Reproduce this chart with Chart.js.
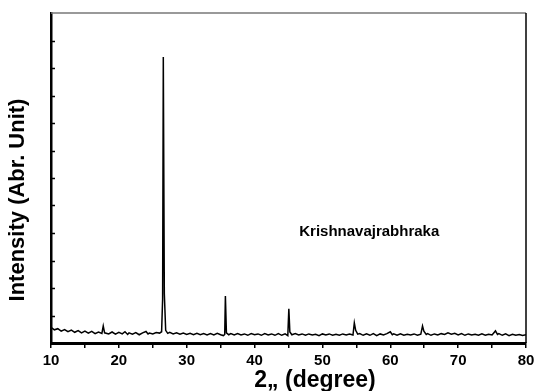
<!DOCTYPE html>
<html>
<head>
<meta charset="utf-8">
<script src="https://cdn.jsdelivr.net/npm/chart.js@4.4.1/dist/chart.umd.min.js"></script>
<style>
  html, body { margin: 0; padding: 0; background: #fff; }
  #wrap { width: 536px; height: 391px; position: relative; }
</style>
</head>
<body>
<div id="wrap"><canvas id="c"></canvas></div>
<script>
const twoTheta = [
  10.0,10.5,11.0,11.5,12.0,12.5,13.0,13.5,14.0,14.5,15.0,15.5,16.0,16.5,17.0,17.5,17.7,17.9,
  18.5,19.0,19.5,20.0,20.5,20.9,21.3,21.5,22.0,22.5,23.0,23.5,24.0,24.3,24.5,25.0,25.5,26.0,
  26.3,26.45,26.55,26.7,26.9,27.2,27.5,28.0,28.5,29.0,29.5,30.0,30.5,31.0,31.5,32.0,32.5,33.0,
  33.5,34.0,34.5,35.0,35.4,35.6,35.7,35.85,36.2,36.5,37.0,37.5,38.0,38.5,39.0,39.5,40.0,40.5,
  41.0,41.5,42.0,42.5,43.0,43.5,44.0,44.5,44.9,45.05,45.2,45.5,46.0,46.5,47.0,47.5,48.0,48.5,
  49.0,49.5,50.0,50.5,51.0,51.5,52.0,52.5,53.0,53.5,54.0,54.5,54.7,54.9,55.2,55.5,56.0,56.5,
  57.0,57.5,58.0,58.5,59.0,59.5,60.0,60.3,60.5,61.0,61.5,62.0,62.5,63.0,63.5,64.0,64.5,64.75,
  64.95,65.3,65.5,66.0,66.5,67.0,67.5,68.0,68.5,69.0,69.5,70.0,70.5,71.0,71.5,72.0,72.5,73.0,
  73.5,74.0,74.5,75.0,75.5,75.8,76.0,76.5,77.0,77.5,78.0,78.5,79.0,79.5,80.0
];
const intensity = [
  0.57,0.48,0.52,0.43,0.49,0.41,0.47,0.39,0.45,0.37,0.43,0.36,0.42,0.34,0.40,0.35,0.62,0.37,
  0.33,0.40,0.32,0.39,0.33,0.41,0.31,0.37,0.32,0.38,0.30,0.37,0.42,0.33,0.36,0.33,0.38,0.36,
  0.41,1.60,10.40,1.80,0.46,0.35,0.39,0.33,0.37,0.32,0.36,0.31,0.35,0.30,0.35,0.30,0.34,0.29,
  0.34,0.29,0.35,0.30,0.27,0.31,1.71,0.37,0.30,0.34,0.29,0.34,0.29,0.33,0.28,0.34,0.30,0.33,
  0.28,0.34,0.29,0.33,0.28,0.34,0.28,0.33,0.27,1.24,0.40,0.30,0.34,0.29,0.33,0.28,0.33,0.29,
  0.32,0.27,0.33,0.29,0.33,0.28,0.32,0.28,0.33,0.29,0.33,0.29,0.73,0.46,0.32,0.34,0.28,0.33,
  0.28,0.34,0.27,0.33,0.29,0.34,0.41,0.30,0.33,0.28,0.33,0.28,0.32,0.29,0.33,0.28,0.32,0.62,
  0.43,0.31,0.34,0.28,0.33,0.29,0.34,0.31,0.37,0.32,0.35,0.29,0.34,0.28,0.33,0.29,0.32,0.28,
  0.33,0.28,0.32,0.29,0.44,0.31,0.34,0.28,0.33,0.27,0.32,0.28,0.31,0.27,0.30
];
const xTickLabels = ['10','20','30','40','50','60','70','80'];
const sampleName = 'Krishnavajrabhraka';
const xTitle = '2\u201E (degree)';
const yTitle = 'Intensity (Abr. Unit)';
const annotationAt = [56.9, 4.05];

const points = twoTheta.map((t, i) => ({ x: t, y: intensity[i] }));

const FONT = '"Liberation Sans", Arial, sans-serif';

const decor = {
  id: 'decor',
  afterDraw(chart) {
    const ctx = chart.ctx;
    const a = chart.chartArea;
    const xs = chart.scales.x, ys = chart.scales.y;
    ctx.save();
    // top border (gray) and right border
    ctx.strokeStyle = '#777';
    ctx.lineWidth = 1.5;
    ctx.beginPath(); ctx.moveTo(a.left, a.top); ctx.lineTo(a.right, a.top); ctx.stroke();
    ctx.strokeStyle = '#000';
    ctx.lineWidth = 1.5;
    ctx.beginPath(); ctx.moveTo(a.right, a.top); ctx.lineTo(a.right, a.bottom); ctx.stroke();
    // inward y ticks
    ctx.lineWidth = 1.5;
    for (let v = 1; v < 12; v++) {
      const py = Math.round(ys.getPixelForValue(v)) + 0.5;
      ctx.beginPath(); ctx.moveTo(a.left, py); ctx.lineTo(a.left + 4, py); ctx.stroke();
    }
    // annotation
    ctx.fillStyle = '#000';
    ctx.font = 'bold 15px ' + FONT;
    ctx.textAlign = 'center';
    ctx.textBaseline = 'middle';
    ctx.fillText(sampleName, xs.getPixelForValue(annotationAt[0]), ys.getPixelForValue(annotationAt[1]));
    // x title
    ctx.font = 'bold 23px ' + FONT;
    ctx.fillText(xTitle, a.left + 264, a.bottom + 38);
    // y title
    ctx.save();
    ctx.translate(a.left - 33, a.top + 187);
    ctx.rotate(-Math.PI / 2);
    ctx.font = 'bold 22px ' + FONT;
    ctx.fillText(yTitle, 0, 0);
    ctx.restore();
    ctx.restore();
  }
};

new Chart(document.getElementById('c'), {
  type: 'line',
  data: {
    datasets: [{
      data: points,
      borderColor: '#000',
      borderWidth: 1.5,
      pointRadius: 0,
      tension: 0,
      fill: false
    }]
  },
  options: {
    responsive: true,
    maintainAspectRatio: false,
    animation: false,
    events: [],
    layout: { padding: { left: 0, right: 10, top: 13, bottom: 0 } },
    plugins: { legend: { display: false }, tooltip: { enabled: false }, title: { display: false } },
    scales: {
      x: {
        type: 'linear',
        min: 10, max: 80,
        afterFit(s) { s.height = 48; s.paddingLeft = 0; s.paddingRight = 0; },
        border: { display: true, color: '#000', width: 3 },
        grid: { drawOnChartArea: false, drawTicks: true, tickLength: 5, color: '#000', lineWidth: 1.5 },
        ticks: {
          stepSize: 5,
          autoSkip: false,
          maxRotation: 0,
          padding: 4,
          color: '#000',
          font: { family: FONT, size: 15, weight: 'bold' },
          callback(v) {
            const s = String(v);
            return xTickLabels.includes(s) ? s : '';
          }
        }
      },
      y: {
        type: 'linear',
        min: 0, max: 12,
        afterFit(s) { s.width = 51; },
        border: { display: true, color: '#000', width: 2.5 },
        grid: { display: false },
        ticks: { display: false, stepSize: 1 }
      }
    }
  },
  plugins: [decor]
});
</script>
</body>
</html>
